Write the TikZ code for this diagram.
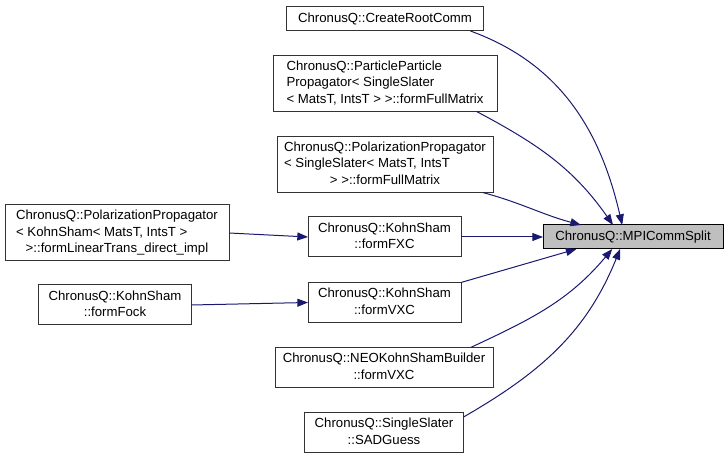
\documentclass[tikz,border=0pt]{standalone}
\usepackage{fontspec}
\setmainfont{Liberation Sans}
\usetikzlibrary{arrows.meta}
\definecolor{edgeblue}{HTML}{191970}
\definecolor{hilite}{HTML}{BFBFBF}
% left-aligned lines, last line centred
\newcommand{\fnlines}[2]{\begin{tabular}{@{}l@{}}#1\\\multicolumn{1}{@{}c@{}}{#2}\end{tabular}}

\begin{document}
\begin{tikzpicture}[x=0.75pt, y=0.75pt,
  fn/.style={draw=black!80, line width=0.75pt, fill=white, inner sep=0pt, outer sep=0pt,
    font=\fontsize{9.9}{12.4}\selectfont},
  oneline/.style={fn, minimum height=18pt},
  twoline/.style={fn, minimum height=30pt},
  threeline/.style={fn, minimum height=42pt},
  call/.style={draw=edgeblue, line width=0.75pt, -{Triangle[length=8pt, width=6pt]}}]
\useasboundingbox (0,0) rectangle (728,459);

% Callee
\node[oneline, fill=hilite, draw=black, minimum width=135pt] (split) at (633,222) {ChronusQ::MPICommSplit};

% Direct callers
\node[oneline, minimum width=147.75pt] (root) at (385,440) {ChronusQ::CreateRootComm};
\node[threeline, minimum width=168pt] (ppfull) at (385,375.5)
  {\fnlines{ChronusQ::ParticleParticle\\Propagator< SingleSlater}{< MatsT, IntsT > >::formFullMatrix}};
\node[threeline, minimum width=162pt] (polfull) at (385,294.5)
  {\fnlines{ChronusQ::PolarizationPropagator\\< SingleSlater< MatsT, IntsT}{> >::formFullMatrix}};
\node[twoline, minimum width=114.75pt] (fxc) at (384.5,222) {\fnlines{ChronusQ::KohnSham}{::formFXC}};
\node[twoline, minimum width=114.75pt] (vxc) at (384.5,156.5) {\fnlines{ChronusQ::KohnSham}{::formVXC}};
\node[twoline, minimum width=163.5pt] (neovxc) at (384,91.5) {\fnlines{ChronusQ::NEOKohnShamBuilder}{::formVXC}};
\node[twoline, minimum width=119.25pt] (sad) at (384,26.5) {\fnlines{ChronusQ::SingleSlater}{::SADGuess}};

% Second level callers
\node[threeline, minimum width=168pt] (lintrans) at (117,226)
  {\fnlines{ChronusQ::PolarizationPropagator\\< KohnSham< MatsT, IntsT >}{>::formLinearTrans\_direct\_impl}};
\node[twoline, minimum width=114.75pt] (fock) at (115,154) {\fnlines{ChronusQ::KohnSham}{::formFock}};

% Calls
\draw[call] (root.-8) to[out=-20, in=103] (split.132);
\draw[call] (ppfull.-17.5) to[out=-28, in=125] (split.149);
\draw[call] (polfull.-16.5) to[out=-15, in=165] (split.167);
\draw[call] (fxc.east) -- (split.west);
\draw[call] (vxc.north east) -- (split.192);
\draw[call] (neovxc.13.5) to[out=25, in=-130] (split.210);
\draw[call] (sad.11.4) to[out=30, in=-112] (split.223);
\draw[call] (lintrans.east) -- (fxc.west);
\draw[call] (fock.east) -- (vxc.west);
\end{tikzpicture}
\end{document}
